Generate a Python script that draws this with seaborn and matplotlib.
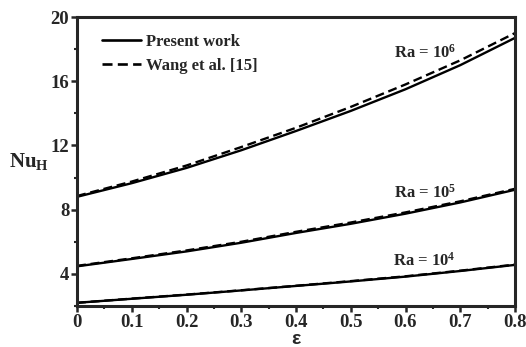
import matplotlib
matplotlib.use("Agg")
import matplotlib.pyplot as plt
import seaborn as sns
import pandas as pd
from matplotlib.ticker import MultipleLocator
from matplotlib.lines import Line2D

eps = [0.0, 0.1, 0.2, 0.3, 0.4, 0.5, 0.6, 0.7, 0.8]
present_ra6 = [8.8, 9.65, 10.6, 11.7, 12.9, 14.15, 15.5, 17.0, 18.7]
wang_ra6 = [8.85, 9.75, 10.75, 11.9, 13.1, 14.4, 15.8, 17.3, 19.0]
present_ra5 = [4.47, 4.93, 5.4, 5.94, 6.55, 7.12, 7.75, 8.45, 9.24]
wang_ra5 = [4.5, 4.97, 5.46, 6.0, 6.62, 7.2, 7.83, 8.52, 9.3]
present_ra4 = [2.2, 2.45, 2.7, 2.97, 3.25, 3.53, 3.83, 4.18, 4.56]
wang_ra4 = [2.2, 2.46, 2.71, 2.98, 3.26, 3.55, 3.85, 4.2, 4.58]
ra_labels = ["Ra = 10$^{6}$", "Ra = 10$^{5}$", "Ra = 10$^{4}$"]
label_pos = [(0.635, 17.75), (0.635, 9.05), (0.635, 4.8)]
xticks = [0, 0.1, 0.2, 0.3, 0.4, 0.5, 0.6, 0.7, 0.8]
xticklabels = ["0", "0.1", "0.2", "0.3", "0.4", "0.5", "0.6", "0.7", "0.8"]
yticks = [4, 8, 12, 16, 20]

sns.set_style("ticks")
plt.rcParams["font.family"] = ["Liberation Serif", "DejaVu Serif"]
plt.rcParams["font.weight"] = "bold"
plt.rcParams["mathtext.fontset"] = "custom"
plt.rcParams["mathtext.rm"] = "Liberation Serif:bold"
plt.rcParams["mathtext.it"] = "Liberation Serif:bold"
plt.rcParams["mathtext.bf"] = "Liberation Serif:bold"

rows = []
for name, vals in [("P6", present_ra6), ("W6", wang_ra6), ("P5", present_ra5),
                   ("W5", wang_ra5), ("P4", present_ra4), ("W4", wang_ra4)]:
    for e, v in zip(eps, vals):
        rows.append({"eps": e, "Nu": v, "series": name,
                     "src": "Present work" if name[0] == "P" else "Wang et al. [15]"})
df = pd.DataFrame(rows)

fig = plt.figure(figsize=(5.26, 3.47), dpi=100)
ax = fig.add_axes([77 / 526, 1 - 306 / 347, (515 - 77) / 526, (306 - 17) / 347])

lw = 1.7
dash = (0, (3.8, 2.0))
for name in ["P6", "P5", "P4"]:
    sns.lineplot(data=df[df.series == name], x="eps", y="Nu", ax=ax, color="black",
                 lw=lw, linestyle="-", legend=False)
for name in ["W6", "W5", "W4"]:
    sns.lineplot(data=df[df.series == name], x="eps", y="Nu", ax=ax, color="black",
                 lw=lw, linestyle=dash, legend=False)

for txt, (x, y) in zip(ra_labels, label_pos):
    ax.text(x, y, txt, ha="center", va="center", fontsize=12, fontweight="bold")

ax.set_xlim(0, 0.8)
ax.set_ylim(2, 20)
ax.set_xticks(xticks)
ax.set_xticklabels(xticklabels)
ax.set_yticks(yticks)
ax.xaxis.set_minor_locator(MultipleLocator(0.05))
ax.yaxis.set_minor_locator(MultipleLocator(2))
ax.tick_params(axis="both", which="major", direction="out", length=4, width=1.8,
               labelsize=13.5, pad=1.5)
ax.tick_params(axis="both", which="minor", direction="out", length=2.5, width=1.5)
for lab in ax.get_xticklabels() + ax.get_yticklabels():
    lab.set_fontweight("bold")
for sp in ax.spines.values():
    sp.set_linewidth(2.2)
    sp.set_visible(True)

ax.set_xlabel("ε", fontsize=14, fontweight="bold", labelpad=0,
              family=["Liberation Sans", "DejaVu Sans"])
ax.set_ylabel("Nu$_{\\mathregular{H}}$", fontsize=15, fontweight="bold", rotation=0,
              ha="center", va="center")
ax.yaxis.set_label_coords(-0.11, 0.5)

handles = [Line2D([], [], color="black", lw=lw + 0.2, linestyle="-"),
           Line2D([], [], color="black", lw=lw + 0.2, linestyle=dash)]
leg = ax.legend(handles, ["Present work", "Wang et al. [15]"], loc="upper left",
                frameon=False, fontsize=12, handlelength=2.3, handletextpad=0.3,
                labelspacing=0.5, borderaxespad=0.6, bbox_to_anchor=(0.02, 1.0))
for t in leg.get_texts():
    t.set_fontweight("bold")

fig.savefig("out.png", dpi=100)
